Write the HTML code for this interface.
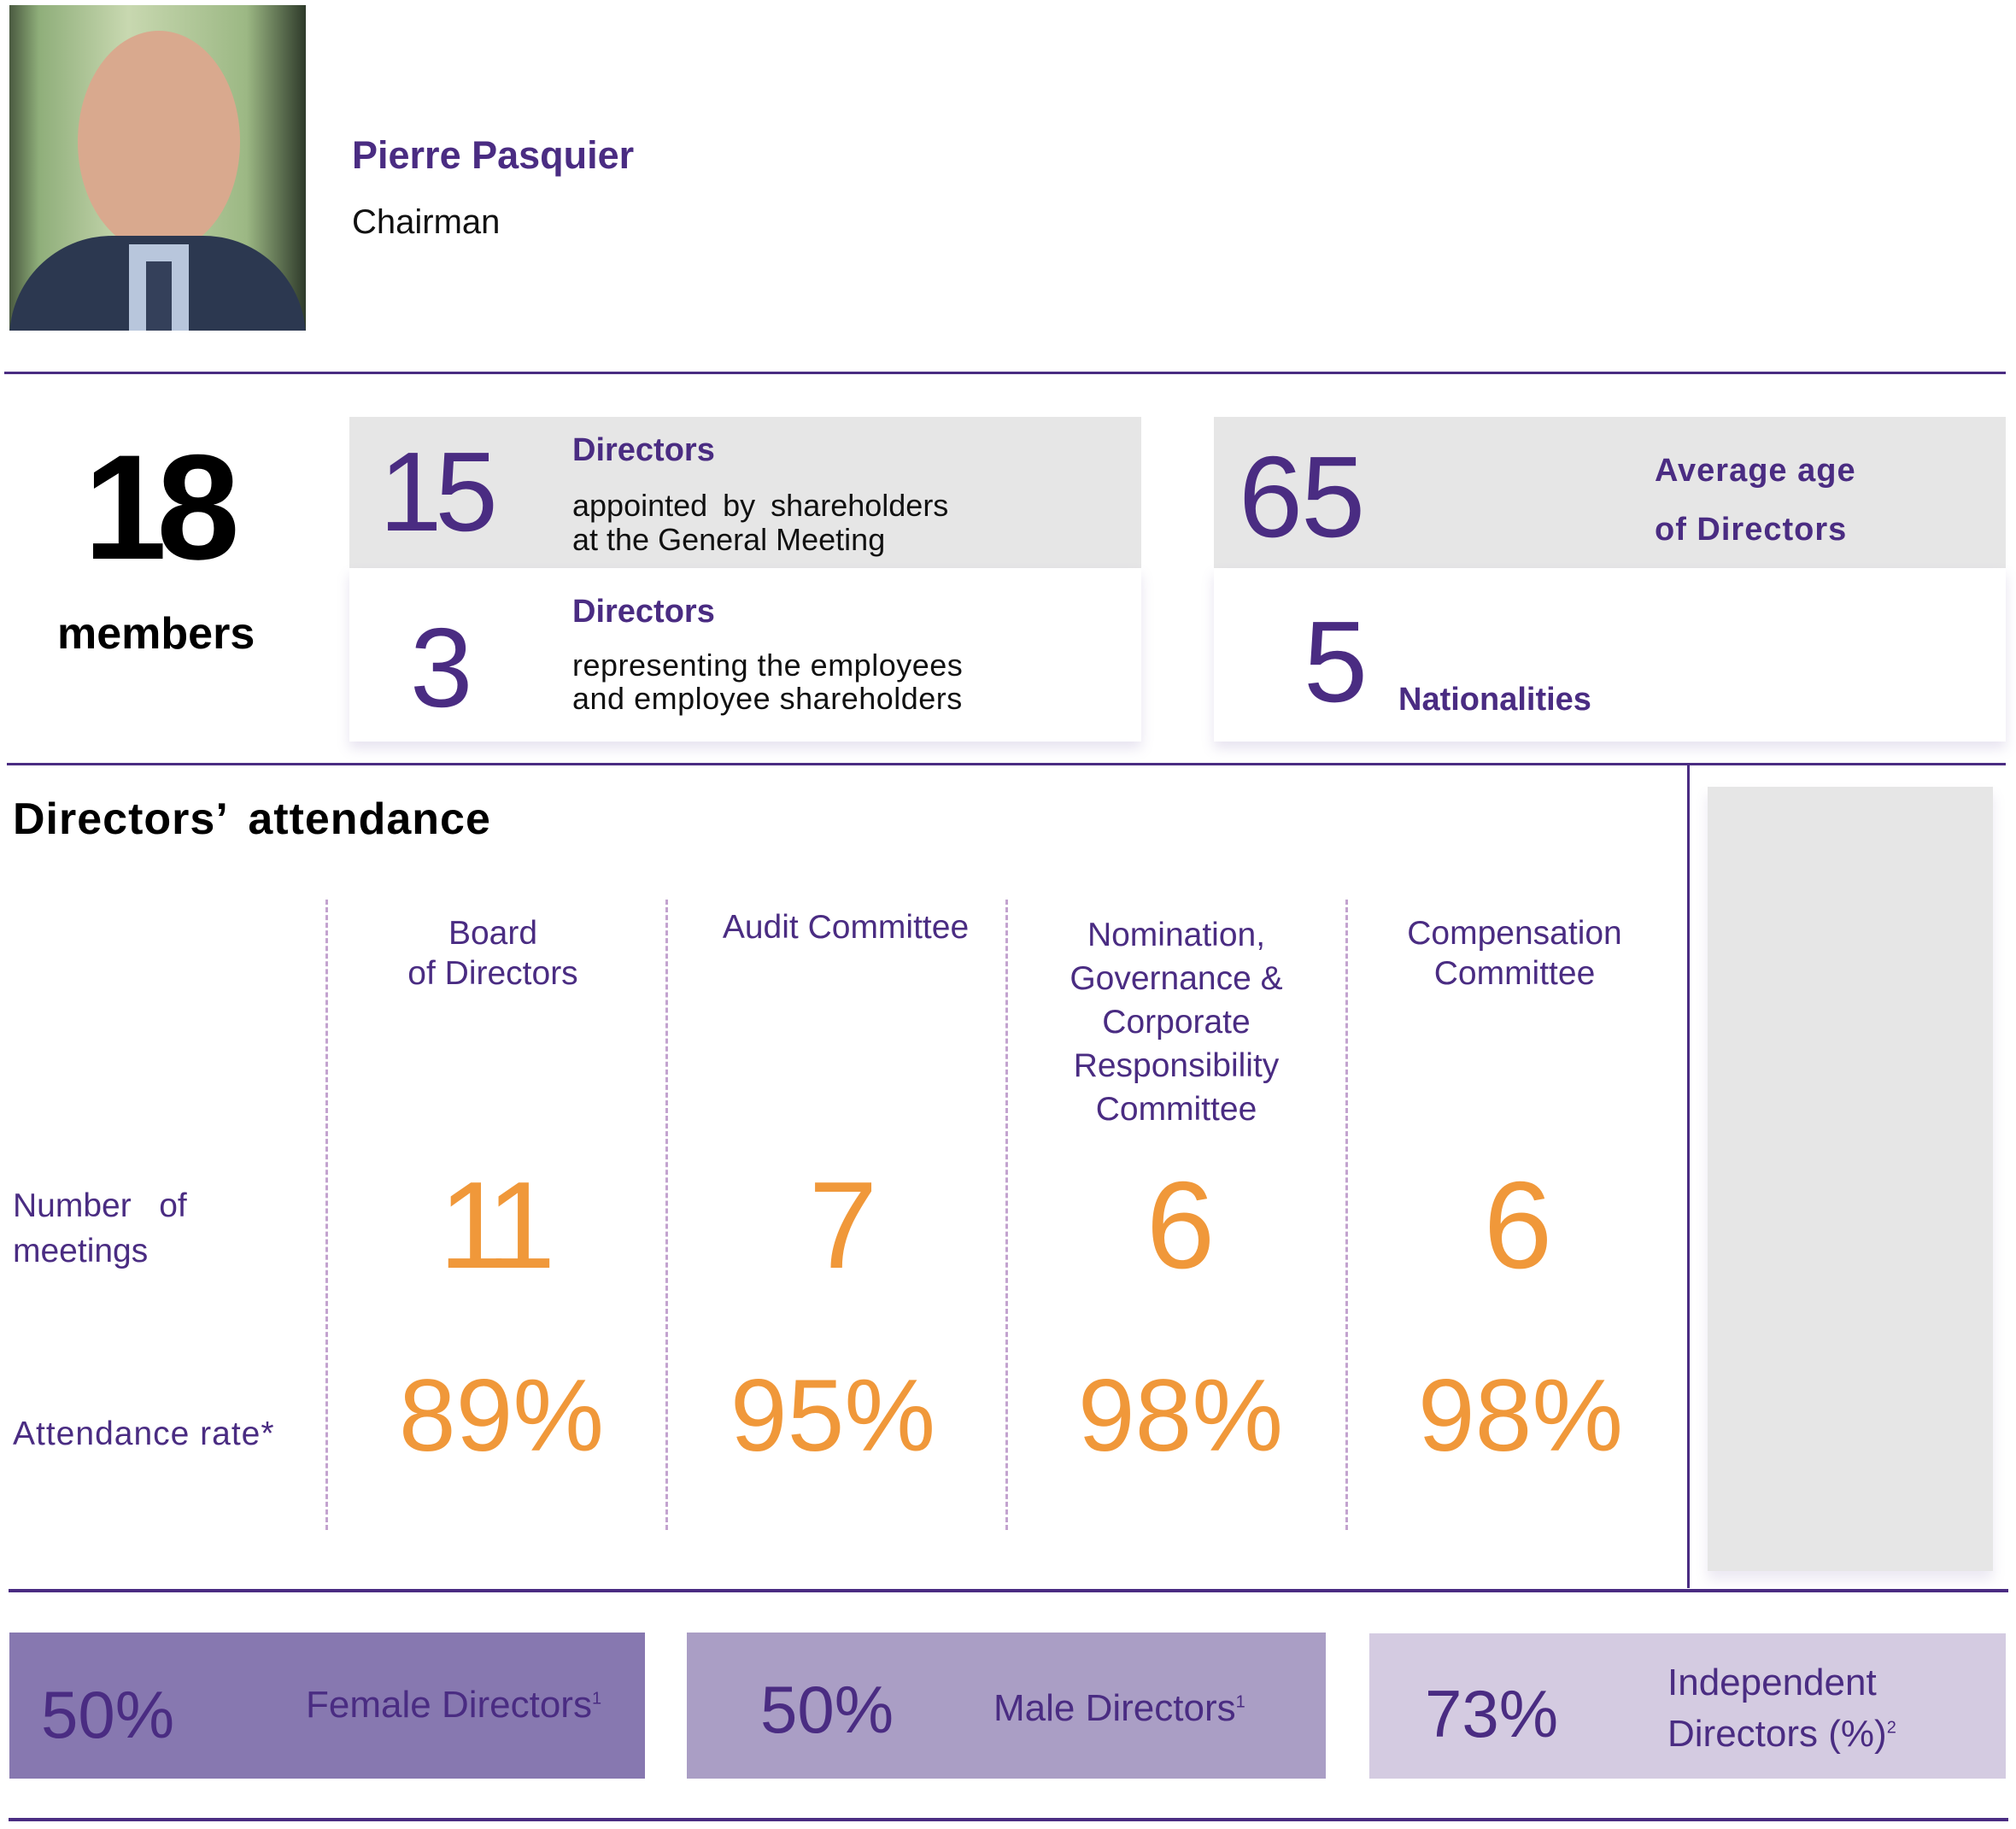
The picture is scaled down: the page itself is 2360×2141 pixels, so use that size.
<!DOCTYPE html>
<html><head><meta charset="utf-8"><style>
body{margin:0;width:2360px;height:2141px;position:relative;background:#fff;font-family:"Liberation Sans",sans-serif;overflow:hidden}
.a{position:absolute;line-height:1;white-space:nowrap}
.p{color:#4a2c82}
.o{color:#f0983a}
.c{text-align:center;transform:translateX(-50%)}
.hr{position:absolute;background:#4a2c82}
.dash{position:absolute;top:1053px;height:738px;border-left:3px dashed #c3a3cf;width:0}
</style></head><body>
<!-- photo -->
<div style="position:absolute;left:11px;top:6px;width:347px;height:381px;background:linear-gradient(90deg,#4a5a40 0%,#8fae7a 10%,#c8d8b0 40%,#9cb884 80%,#2e3a2a 100%);overflow:hidden">
 <div style="position:absolute;left:80px;top:30px;width:190px;height:260px;border-radius:50%;background:#d9a98e"></div>
 <div style="position:absolute;left:0;top:270px;width:347px;height:140px;background:#2c3850;border-radius:120px 120px 0 0"></div>
 <div style="position:absolute;left:140px;top:280px;width:70px;height:110px;background:#b8c6dc"></div>
 <div style="position:absolute;left:160px;top:300px;width:30px;height:90px;background:#34405a"></div>
</div>
<div class="a p" style="left:412px;top:159px;font-size:45px;font-weight:bold">Pierre Pasquier</div>
<div class="a" style="left:412px;top:240px;font-size:40px;color:#111">Chairman</div>
<div class="hr" style="left:5px;top:435px;width:2343px;height:3px"></div>

<div class="a" style="left:98px;top:507px;font-size:175px;font-weight:bold;color:#000;letter-spacing:-12px">18</div>
<div class="a" style="left:67px;top:716px;font-size:52px;font-weight:bold;color:#000">members</div>

<div style="position:absolute;left:409px;top:488px;width:927px;height:177px;background:#e6e6e6"></div>
<div style="position:absolute;left:409px;top:665px;width:927px;height:203px;background:#fff;box-shadow:0 8px 14px rgba(120,100,170,0.18)"></div>
<div class="a p" style="left:444px;top:510px;font-size:132px;letter-spacing:-8px">15</div>
<div class="a p" style="left:670px;top:508px;font-size:38px;font-weight:bold">Directors</div>
<div class="a" style="left:670px;top:574px;font-size:36px;color:#111;word-spacing:8px">appointed by shareholders</div>
<div class="a" style="left:670px;top:614px;font-size:36px;color:#111">at the General Meeting</div>
<div class="a p" style="left:480px;top:716px;font-size:132px">3</div>
<div class="a p" style="left:670px;top:697px;font-size:38px;font-weight:bold">Directors</div>
<div class="a" style="left:670px;top:761px;font-size:36px;color:#111;letter-spacing:0.5px">representing the employees</div>
<div class="a" style="left:670px;top:800px;font-size:36px;color:#111;letter-spacing:0.5px">and employee shareholders</div>

<div style="position:absolute;left:1421px;top:488px;width:927px;height:177px;background:#e6e6e6"></div>
<div style="position:absolute;left:1421px;top:665px;width:927px;height:203px;background:#fff;box-shadow:0 8px 14px rgba(120,100,170,0.18)"></div>
<div class="a p" style="left:1450px;top:514px;font-size:135px;letter-spacing:-2px">65</div>
<div class="a p" style="left:1937px;top:532px;font-size:38px;font-weight:bold;letter-spacing:1px">Average age</div>
<div class="a p" style="left:1937px;top:601px;font-size:38px;font-weight:bold;letter-spacing:1px">of Directors</div>
<div class="a p" style="left:1526px;top:707px;font-size:135px">5</div>
<div class="a p" style="left:1637px;top:800px;font-size:38px;font-weight:bold">Nationalities</div>

<div class="hr" style="left:8px;top:893px;width:2340px;height:3px"></div>
<div class="a" style="left:15px;top:933px;font-size:52px;font-weight:bold;color:#000;letter-spacing:1px;word-spacing:10px">Directors’ attendance</div>
<div class="hr" style="left:1975px;top:896px;width:3px;height:963px"></div>
<div style="position:absolute;left:1999px;top:921px;width:334px;height:918px;background:#e6e6e6;box-shadow:0 10px 14px rgba(120,100,170,0.15)"></div>

<div class="dash" style="left:381px"></div>
<div class="dash" style="left:779px"></div>
<div class="dash" style="left:1177px"></div>
<div class="dash" style="left:1575px"></div>

<div class="a p c" style="left:577px;top:1069px;font-size:39px;line-height:47px">Board<br>of Directors</div>
<div class="a p c" style="left:990px;top:1066px;font-size:39px">Audit Committee</div>
<div class="a p c" style="left:1377px;top:1069px;font-size:39px;line-height:51px">Nomination,<br>Governance &amp;<br>Corporate<br>Responsibility<br>Committee</div>
<div class="a p c" style="left:1773px;top:1069px;font-size:39px;line-height:47px">Compensation<br>Committee</div>

<div class="a p" style="left:15px;top:1385px;font-size:39px;line-height:53px">Number&nbsp;&nbsp;&nbsp;of<br>meetings</div>
<div class="a p" style="left:15px;top:1659px;font-size:39px;letter-spacing:1px">Attendance rate*</div>

<div class="a o c" style="left:575px;top:1362px;font-size:145px;letter-spacing:-14px">11</div>
<div class="a o c" style="left:987px;top:1362px;font-size:145px">7</div>
<div class="a o c" style="left:1382px;top:1362px;font-size:145px">6</div>
<div class="a o c" style="left:1777px;top:1362px;font-size:145px">6</div>
<div class="a o c" style="left:587px;top:1597px;font-size:120px">89%</div>
<div class="a o c" style="left:975px;top:1597px;font-size:120px">95%</div>
<div class="a o c" style="left:1382px;top:1597px;font-size:120px">98%</div>
<div class="a o c" style="left:1780px;top:1597px;font-size:120px">98%</div>

<div class="hr" style="left:10px;top:1860px;width:2341px;height:4px"></div>

<div style="position:absolute;left:11px;top:1911px;width:744px;height:171px;background:#8778b0"></div>
<div style="position:absolute;left:804px;top:1911px;width:748px;height:171px;background:#aa9ec5"></div>
<div style="position:absolute;left:1603px;top:1912px;width:745px;height:170px;background:#d4cbe1"></div>
<div class="a p" style="left:48px;top:1968px;font-size:78px">50%</div>
<div class="a p" style="left:358px;top:1974px;font-size:44px">Female Directors<sup style="font-size:20px">1</sup></div>
<div class="a p" style="left:890px;top:1962px;font-size:78px">50%</div>
<div class="a p" style="left:1163px;top:1978px;font-size:44px">Male Directors<sup style="font-size:20px">1</sup></div>
<div class="a p" style="left:1668px;top:1967px;font-size:78px">73%</div>
<div class="a p" style="left:1952px;top:1948px;font-size:44px">Independent</div>
<div class="a p" style="left:1952px;top:2008px;font-size:44px">Directors (%)<sup style="font-size:20px">2</sup></div>

<div class="hr" style="left:10px;top:2128px;width:2341px;height:4px"></div>
</body></html>
